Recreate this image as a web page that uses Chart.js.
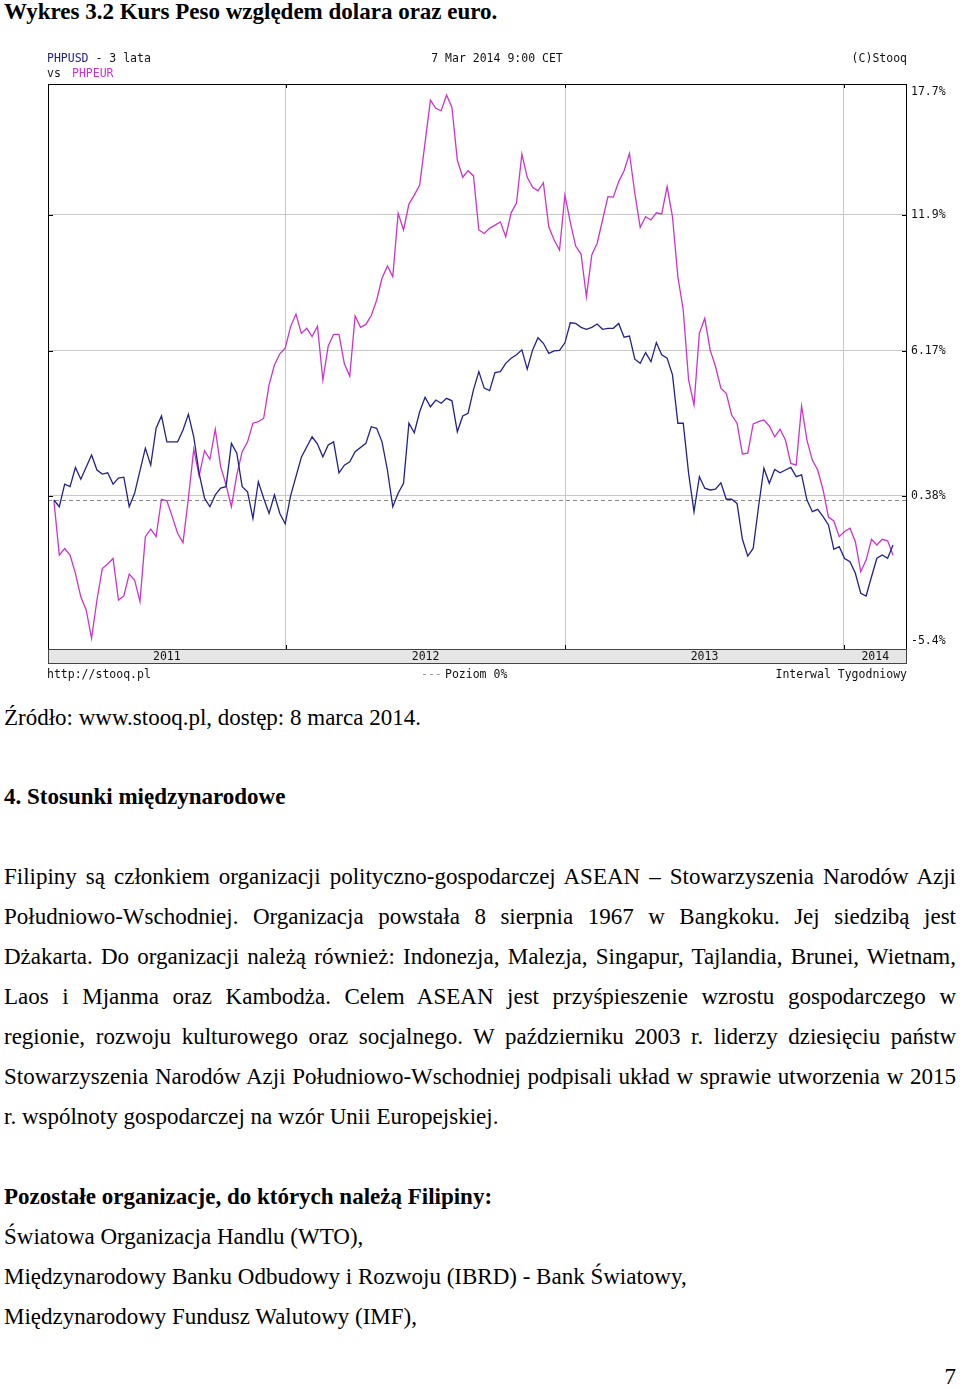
<!DOCTYPE html>
<html>
<head>
    <meta charset="UTF-8">
    <title>Wykres 3.2 Kurs Peso względem dolara oraz euro</title>
    <script src="https://cdn.jsdelivr.net/npm/chart.js"></script>
    <style>
        body {
            margin: 0;
            width: 960px;
            height: 1388px;
            position: relative;
            overflow: hidden;
            background: #fff;
            color: #000;
            font-family: "Liberation Serif", "Times New Roman", serif;
        }

        .ln {
            position: absolute;
            left: 4px;
            font-size: 23px;
            line-height: 40px;
            white-space: nowrap;
        }

        .j {
            width: 952px;
            text-align: justify;
            text-align-last: justify;
        }

        .b {
            font-weight: bold;
        }

        #chartBox {
            position: absolute;
            left: 0;
            top: 40px;
            width: 960px;
            height: 650px;
        }
    </style>
</head>

<body>
    <div class="ln b" style="top:-8px">Wykres 3.2 Kurs Peso względem dolara oraz euro.</div>

    <div id="chartBox">
        <canvas id="stooqChart" width="960" height="650"></canvas>
    </div>

    <div class="ln" style="top:698px">Źródło: www.stooq.pl, dostęp: 8 marca 2014.</div>

    <div class="ln b" style="top:777px">4. Stosunki międzynarodowe</div>

    <div class="ln j" style="top:857px">Filipiny są członkiem organizacji polityczno-gospodarczej ASEAN – Stowarzyszenia Narodów Azji</div>
    <div class="ln j" style="top:897px">Południowo-Wschodniej. Organizacja powstała 8 sierpnia 1967 w Bangkoku. Jej siedzibą jest</div>
    <div class="ln j" style="top:937px">Dżakarta. Do organizacji należą również: Indonezja, Malezja, Singapur, Tajlandia, Brunei, Wietnam,</div>
    <div class="ln j" style="top:977px">Laos i Mjanma oraz Kambodża. Celem ASEAN jest przyśpieszenie wzrostu gospodarczego w</div>
    <div class="ln j" style="top:1017px">regionie, rozwoju kulturowego oraz socjalnego. W październiku 2003 r. liderzy dziesięciu państw</div>
    <div class="ln j" style="top:1057px">Stowarzyszenia Narodów Azji Południowo-Wschodniej podpisali układ w sprawie utworzenia w 2015</div>
    <div class="ln" style="top:1097px">r. wspólnoty gospodarczej na wzór Unii Europejskiej.</div>

    <div class="ln b" style="top:1177px">Pozostałe organizacje, do których należą Filipiny:</div>
    <div class="ln" style="top:1217px">Światowa Organizacja Handlu (WTO),</div>
    <div class="ln" style="top:1257px">Międzynarodowy Banku Odbudowy i Rozwoju (IBRD) - Bank Światowy,</div>
    <div class="ln" style="top:1297px">Międzynarodowy Fundusz Walutowy (IMF),</div>

    <div class="ln" style="top:1357px; left:auto; right:4px">7</div>

    <script>
        // Weekly data, 3 years back from 7 Mar 2014 (week 0 = first week of March 2011).
        // Values are % change against the first week.
        var usdWeeks = [0, 1, 2, 3, 4, 5, 7, 8, 9, 10, 11, 12, 13, 14, 15, 17, 18, 19, 20, 21,
            23, 24, 25, 26, 27, 28, 29, 30, 31, 32, 33, 34, 35, 36, 37, 38, 39, 40, 41, 42,
            43, 44, 46, 48, 49, 50, 51, 52, 53, 54, 55, 56, 58, 59, 60, 61, 62, 63, 64, 65,
            66, 67, 68, 69, 70, 71, 72, 73, 74, 75, 76, 77, 78, 79, 80, 81, 82, 83, 84, 85,
            86, 87, 88, 89, 90, 91, 92, 93, 94, 95, 96, 97, 98, 99, 100, 101, 102, 103, 104, 105,
            106, 107, 108, 109, 110, 111, 112, 113, 114, 115, 116, 117, 118, 119, 120, 121, 122, 123, 124, 125,
            126, 127, 128, 129, 130, 131, 132, 133, 134, 135, 136, 137, 138, 139, 140, 141, 142, 143, 144, 145,
            146, 147, 148, 149, 150, 151, 152, 153, 154, 155, 156];
        var usdPct = [0.21, -0.05, 0.83, 0.73, 1.48, 1.02, 1.97, 1.38, 1.22, 1.27, 0.83, 1.06, 1.10, -0.05, 0.47, 2.24, 1.57, 3.03, 3.52, 2.49,
            2.49, 2.96, 3.59, 2.69, 1.25, 0.28, -0.05, 0.41, 0.67, 0.73, 2.43, 2.04, 0.73, 0.53, -0.50, 0.92, 0.28, -0.31, 0.41, -0.31,
            -0.71, 0.37, 1.88, 2.69, 2.40, 1.90, 2.37, 2.49, 1.27, 1.57, 1.70, 2.10, 2.43, 3.09, 3.03, 2.49, 1.38, -0.05, 0.47, 0.86,
            3.23, 2.85, 3.69, 4.27, 3.89, 4.16, 4.03, 4.23, 4.13, 2.89, 3.52, 3.63, 4.57, 5.31, 4.64, 4.54, 5.27, 5.31, 5.65, 5.86,
            6.00, 6.20, 5.41, 6.20, 6.70, 6.47, 6.06, 6.16, 6.18, 6.49, 7.32, 7.29, 7.13, 7.05, 7.13, 7.27, 7.05, 7.09, 7.09, 7.29,
            6.72, 6.77, 5.82, 5.65, 6.09, 5.72, 6.50, 6.00, 5.86, 5.18, 3.23, 3.23, 1.25, -0.24, 1.12, 0.67, 0.60, 0.63, 0.88, 0.24,
            0.24, 0.08, -1.30, -1.94, -1.65, -0.05, 1.45, 0.86, 1.40, 1.27, 1.38, 1.48, 1.12, 1.19, 0.21, -0.24, -0.15, -0.43, -0.75, -1.68,
            -1.58, -2.03, -2.15, -2.59, -3.34, -3.44, -2.72, -2.02, -1.90, -2.02, -1.52];

        var eurWeeks = [0, 1, 2, 3, 4, 5, 6, 7, 8, 9, 10, 11, 12, 13, 14, 15, 16, 17, 18, 19,
            20, 21, 22, 23, 24, 25, 26, 27, 28, 29, 30, 31, 32, 33, 34, 35, 36, 37, 38, 39,
            40, 41, 42, 43, 44, 45, 46, 47, 48, 49, 50, 51, 52, 53, 54, 55, 56, 57, 58, 59,
            60, 61, 62, 63, 64, 65, 66, 67, 68, 70, 71, 72, 73, 74, 75, 76, 77, 78, 79, 80,
            81, 83, 84, 85, 86, 87, 88, 89, 90, 91, 92, 93, 94, 95, 96, 97, 98, 99, 100, 101,
            102, 103, 104, 105, 106, 107, 108, 109, 110, 111, 112, 113, 114, 115, 116, 117, 118, 119, 120, 121,
            122, 123, 124, 125, 126, 127, 128, 129, 130, 131, 132, 133, 134, 135, 136, 137, 138, 139, 140, 141,
            142, 143, 144, 145, 146, 147, 148, 149, 150, 151, 152, 153, 154, 155, 156];
        var eurPct = [0.18, -1.90, -1.65, -1.90, -2.59, -3.47, -3.96, -5.01, -3.59, -2.41, -2.24, -2.03, -3.59, -3.44, -2.62, -2.84, -3.65, -1.20, -0.91, -1.20,
            0.24, 0.18, -0.43, -1.07, -1.43, 0.28, 2.20, 1.15, 2.14, 1.80, 2.99, 1.51, 0.80, -0.05, 1.19, 2.10, 2.49, 3.23, 3.29, 3.43,
            4.77, 5.58, 6.04, 6.27, 7.16, 7.68, 6.88, 7.09, 6.75, 7.18, 4.97, 6.36, 6.84, 6.84, 5.63, 5.13, 7.60, 7.13, 7.25, 7.62,
            8.26, 9.18, 9.70, 9.25, 11.96, 11.24, 12.36, 12.75, 13.19, 16.97, 16.60, 16.49, 17.20, 16.64, 14.29, 13.53, 13.82, 13.59, 11.24, 11.09,
            11.31, 11.59, 10.95, 11.98, 12.40, 14.55, 13.53, 13.09, 12.94, 13.29, 11.38, 10.81, 10.38, 12.75, 11.58, 10.55, 10.21, 8.41, 10.17, 10.67,
            11.67, 12.68, 12.66, 13.34, 13.82, 14.58, 12.83, 11.35, 11.81, 11.67, 11.98, 11.93, 13.12, 11.81, 9.25, 7.85, 4.97, 3.96, 6.88, 7.50,
            6.20, 5.52, 4.64, 4.43, 3.56, 3.23, 2.01, 2.04, 3.20, 3.29, 3.36, 3.12, 2.69, 2.99, 2.56, 1.64, 1.57, 3.92, 2.56, 1.77,
            1.38, 0.60, -0.45, -0.60, -1.20, -1.00, -0.88, -1.39, -2.53, -2.09, -1.30, -1.52, -1.30, -1.36, -1.90];

        // x axis: week index, year boundaries and labels
        var weekMin = -1.1, weekMax = 158.6;
        var yearStarts = [43.1, 95.1, 146.8];
        var yearLabels = ['2011', '2012', '2013', '2014'];

        // y axis: % levels (log scale of the price ratio)
        var axisPct = [17.7, 11.9, 6.17, 0.38, -5.4];
        var gridPct = [11.9, 6.17, 0.38];

        var monoFont = '11.5px "DejaVu Sans Mono", monospace';
        var usdColor = '#22228c';
        var eurColor = '#cc33cc';

        function toPoints(weeks, pct) {
            return weeks.map(function (w, i) {
                return { x: w, y: 1 + pct[i] / 100 };
            });
        }

        // draws the stooq style frame, axis labels, header and footer
        var stooqFrame = {
            id: 'stooqFrame',
            beforeDatasetsDraw: function (chart) {
                // "Poziom 0%" = level of the first weekly close
                var ctx = chart.ctx, a = chart.chartArea;
                var py = Math.round(chart.scales.y.getPixelForValue(1 + usdPct[0] / 100)) + 0.5;
                ctx.save();
                ctx.strokeStyle = '#8a8a8a';
                ctx.lineWidth = 1;
                ctx.setLineDash([4, 3]);
                ctx.beginPath();
                ctx.moveTo(a.left, py);
                ctx.lineTo(a.right, py);
                ctx.stroke();
                ctx.restore();
            },
            afterDraw: function (chart) {
                var ctx = chart.ctx, a = chart.chartArea;
                var xs = chart.scales.x, ys = chart.scales.y;
                ctx.save();

                // plot frame
                ctx.strokeStyle = '#000';
                ctx.lineWidth = 1;
                ctx.strokeRect(a.left + 0.5, a.top + 0.5, a.right - a.left - 1, a.bottom - a.top);

                // small tick marks
                ctx.beginPath();
                gridPct.forEach(function (p) {
                    var py = Math.round(ys.getPixelForValue(1 + p / 100)) + 0.5;
                    ctx.moveTo(a.left, py); ctx.lineTo(a.left + 5, py);
                    ctx.moveTo(a.right - 5, py); ctx.lineTo(a.right, py);
                });
                yearStarts.forEach(function (w) {
                    var px = Math.round(xs.getPixelForValue(w)) + 0.5;
                    ctx.moveTo(px, a.top); ctx.lineTo(px, a.top + 4);
                    ctx.moveTo(px, a.bottom - 4); ctx.lineTo(px, a.bottom);
                });
                ctx.stroke();

                // year band
                var bandTop = a.bottom + 1, bandH = 13;
                ctx.fillStyle = '#e6e6e6';
                ctx.fillRect(a.left, bandTop, a.right - a.left, bandH);
                ctx.strokeStyle = '#444';
                ctx.strokeRect(a.left + 0.5, bandTop - 0.5, a.right - a.left - 1, bandH + 1);

                ctx.font = monoFont;
                ctx.fillStyle = '#111';
                ctx.textBaseline = 'middle';
                ctx.textAlign = 'center';
                var edges = [weekMin].concat(yearStarts, [weekMax]);
                yearLabels.forEach(function (lbl, i) {
                    var px = (xs.getPixelForValue(edges[i]) + xs.getPixelForValue(edges[i + 1])) / 2;
                    ctx.fillText(lbl, px, bandTop + bandH / 2 + 0.5);
                });

                // y labels on the right
                ctx.textAlign = 'left';
                axisPct.forEach(function (p, i) {
                    var py = ys.getPixelForValue(1 + p / 100);
                    if (i === 0) py = a.top + 8;
                    if (i === axisPct.length - 1) py = a.bottom - 8;
                    ctx.fillText(p + '%', a.right + 4, py);
                });

                // header
                var hy1 = a.top - 25, hy2 = a.top - 10;
                ctx.fillStyle = usdColor;
                ctx.fillText('PHPUSD', 47, hy1);
                var w1 = ctx.measureText('PHPUSD').width;
                ctx.fillStyle = '#111';
                ctx.fillText(' - 3 lata', 47 + w1, hy1);
                ctx.fillText('vs', 47, hy2);
                ctx.fillStyle = eurColor;
                ctx.fillText('PHPEUR', 72, hy2);
                ctx.fillStyle = '#111';
                ctx.textAlign = 'center';
                ctx.fillText('7 Mar 2014 9:00 CET', 497, hy1);
                ctx.textAlign = 'right';
                ctx.fillText('(C)Stooq', a.right, hy1);

                // footer
                var fy = bandTop + bandH + 12;
                ctx.textAlign = 'left';
                ctx.fillText('http://stooq.pl', 47, fy);
                ctx.fillStyle = '#999';
                ctx.fillText('---', 421, fy);
                ctx.fillStyle = '#111';
                ctx.fillText('Poziom 0%', 445, fy);
                ctx.textAlign = 'right';
                ctx.fillText('Interwal Tygodniowy', a.right, fy);

                ctx.restore();
            }
        };

        var stooqChart = new Chart(document.getElementById('stooqChart'), {
            type: 'line',
            data: {
                datasets: [{
                    label: 'PHPUSD',
                    data: toPoints(usdWeeks, usdPct),
                    borderColor: usdColor,
                    borderWidth: 1.3,
                    pointRadius: 0,
                    tension: 0,
                    fill: false
                }, {
                    label: 'PHPEUR',
                    data: toPoints(eurWeeks, eurPct),
                    borderColor: eurColor,
                    borderWidth: 1.3,
                    pointRadius: 0,
                    tension: 0,
                    fill: false
                }]
            },
            options: {
                responsive: false,
                devicePixelRatio: 1,
                animation: false,
                layout: {
                    padding: { left: 48, right: 53, top: 44, bottom: 41 }
                },
                plugins: {
                    legend: { display: false },
                    tooltip: { enabled: false }
                },
                scales: {
                    x: {
                        type: 'linear',
                        min: weekMin,
                        max: weekMax,
                        afterBuildTicks: function (s) {
                            s.ticks = yearStarts.map(function (w) { return { value: w }; });
                        },
                        ticks: { display: false },
                        grid: { color: '#c8c8c8', lineWidth: 1, drawTicks: false },
                        border: { display: false }
                    },
                    y: {
                        type: 'logarithmic',
                        bounds: 'data',
                        min: 1 + axisPct[axisPct.length - 1] / 100,
                        max: 1 + axisPct[0] / 100,
                        afterBuildTicks: function (s) {
                            s.ticks = gridPct.map(function (p) { return { value: 1 + p / 100 }; });
                        },
                        ticks: { display: false },
                        grid: { color: '#c8c8c8', lineWidth: 1, drawTicks: false },
                        border: { display: false }
                    }
                }
            },
            plugins: [stooqFrame]
        });
    </script>
</body>

</html>
